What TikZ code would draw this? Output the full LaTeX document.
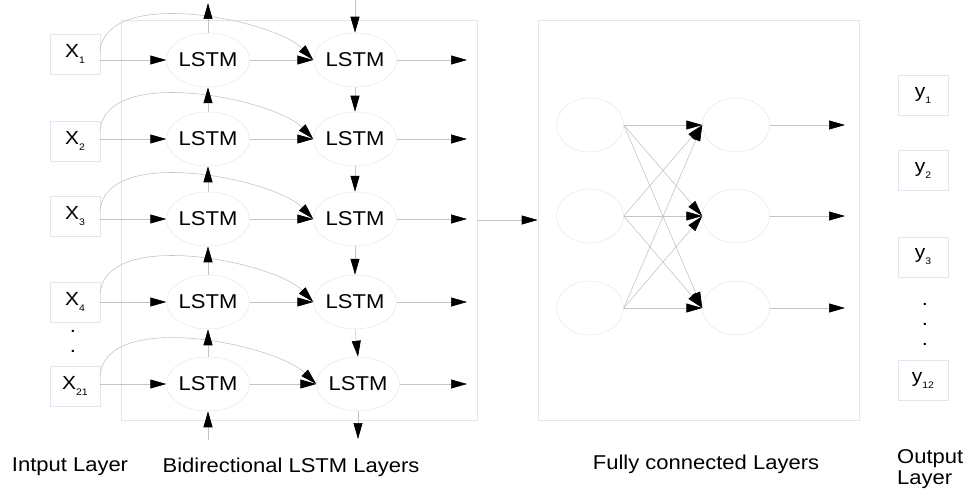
\documentclass[tikz,border=0pt]{standalone}
\usepackage{fontspec}
\setmainfont{Liberation Sans}[FakeStretch=1.1]
\usetikzlibrary{arrows.meta,shapes.geometric}
\definecolor{lnc}{HTML}{C4C4C4}
\definecolor{bdc}{HTML}{E2E6EE}
\newcommand\xsb[2]{#1\raisebox{-6pt}{\fontsize{9.5}{10}\selectfont #2}}
\begin{document}
\begin{tikzpicture}[x=1pt,y=-1pt,
  lstm/.style={ellipse,draw=bdc,line width=0.5pt,minimum width=67pt,minimum height=54pt,inner sep=0pt,font=\fontsize{20}{22}\selectfont},
  io/.style={draw=bdc,line width=0.5pt,minimum width=50pt,minimum height=40pt,inner sep=0pt,font=\fontsize{19}{20}\selectfont},
  arr/.style={draw=lnc,line width=0.6pt,-{Triangle[length=16pt,width=9pt,color=black]}},
  frame/.style={draw=bdc,line width=0.6pt,inner sep=0pt},
  lab/.style={font=\fontsize{20}{21}\selectfont,inner sep=0pt}]
\useasboundingbox (0,0) rectangle (968,492);

% frames
\node[frame,minimum width=356pt,minimum height=400pt] (lbox) at (299,220) {};
\node[frame,minimum width=321pt,minimum height=400pt] (fbox) at (698.5,220) {};

% input boxes
\node[io] (x1) at (75,54) {\xsb{X}{1}};
\node[io] (x2) at (75,141) {\xsb{X}{2}};
\node[io] (x3) at (75,216) {\xsb{X}{3}};
\node[io] (x4) at (75,302) {\xsb{X}{4}};
\node[io] (x5) at (75,386) {\xsb{X}{21}};
\node[lab] (d1) at (73,331) {.};
\node[lab] (d2) at (73,351) {.};

% LSTM nodes
\node[lstm] (a1) at (208,60) {LSTM};
\node[lstm] (a2) at (208,139) {LSTM};
\node[lstm] (a3) at (208,219) {LSTM};
\node[lstm] (a4) at (208,302) {LSTM};
\node[lstm] (a5) at (208,384) {LSTM};
\node[lstm] (b1) at (355,60) {LSTM};
\node[lstm] (b2) at (355,139) {LSTM};
\node[lstm] (b3) at (355,219) {LSTM};
\node[lstm] (b4) at (355,302) {LSTM};
\node[lstm] (b5) at (358,384) {LSTM};

% free ends
\coordinate (ta) at (208,3);
\coordinate (ba) at (208,440);
\coordinate (tb) at (355,0);
\coordinate (bb) at (358,439);
\foreach \i/\y in {1/60,2/139,3/219,4/302,5/384}{
  \coordinate (o\i) at (467,\y);
  \draw[arr] (x\i.east |- 0,\y) -- (a\i.west);
  \draw[arr] (a\i.east) -- (b\i.west);
  \draw[arr] (b\i.east) -- (o\i);
  \draw[arr] (100,\y-8) .. controls (105,\y-75) and (275,\y-40) .. (b\i.west);
}
\draw[arr] (a1.north) -- (ta);
\draw[arr] (a2.north) -- (a1.south);
\draw[arr] (a3.north) -- (a2.south);
\draw[arr] (a4.north) -- (a3.south);
\draw[arr] (a5.north) -- (a4.south);
\draw[arr] (ba) -- (a5.south);
\draw[arr] (tb) -- (b1.north);
\draw[arr] (b1.south) -- (b2.north);
\draw[arr] (b2.south) -- (b3.north);
\draw[arr] (b3.south) -- (b4.north);
\draw[arr] (b4.south) -- (b5.north);
\draw[arr] (b5.south) -- (bb);

\draw[arr] (lbox.east) -- (fbox.west);

% fully connected
\node[lstm] (f1) at (590,125) {};
\node[lstm] (f2) at (590,216) {};
\node[lstm] (f3) at (590,308) {};
\node[lstm] (g1) at (736,125) {};
\node[lstm] (g2) at (736,216) {};
\node[lstm] (g3) at (736,308) {};
\foreach \i in {1,2,3}{
  \foreach \j in {1,2,3}{
    \draw[arr] (f\i.east) -- (g\j.west);
  }
}
\coordinate (h1) at (845,125);
\coordinate (h2) at (845,216);
\coordinate (h3) at (845,308);
\draw[arr] (g1.east) -- (h1);
\draw[arr] (g2.east) -- (h2);
\draw[arr] (g3.east) -- (h3);

% output boxes
\node[io] (y1) at (923,95) {\xsb{y}{1}};
\node[io] (y2) at (923,170) {\xsb{y}{2}};
\node[io] (y3) at (923,257) {\xsb{y}{3}};
\node[io] (y4) at (923,380) {\xsb{y}{12}};
\node[lab] (e1) at (925,304) {.};
\node[lab] (e2) at (925,324) {.};
\node[lab] (e3) at (925,344) {.};

% labels
\node[lab] (l1) at (70,467) {Intput Layer};
\node[lab] (l2) at (291,467) {Bidirectional LSTM Layers};
\node[lab] (l3) at (706,464) {Fully connected Layers};
\node[lab,align=left,anchor=north west] (l4) at (897,449) {Output\\Layer};
\end{tikzpicture}
\end{document}
